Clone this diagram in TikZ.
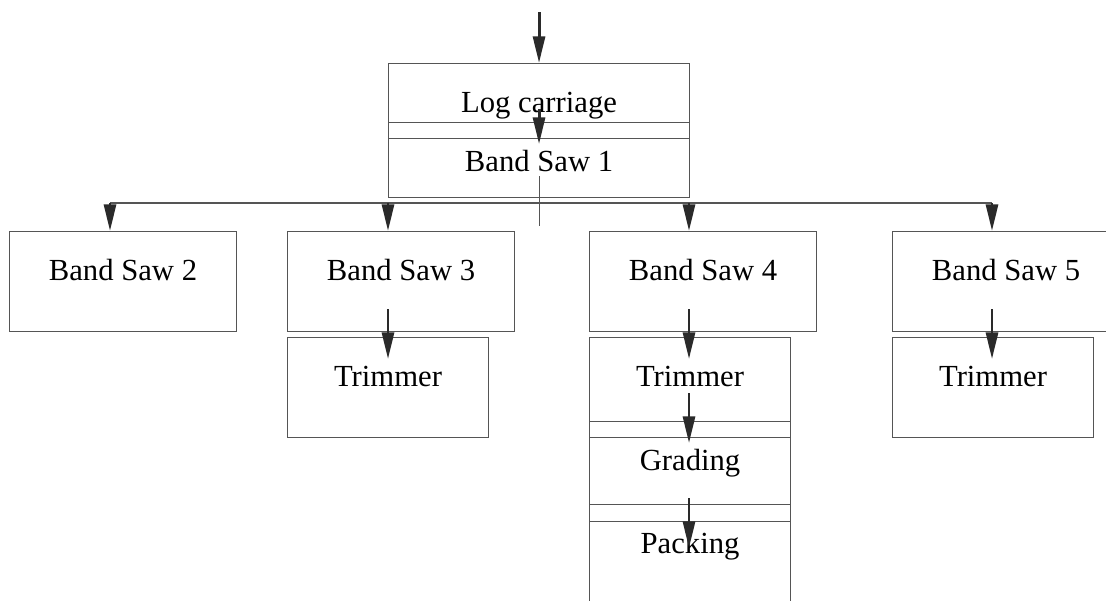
\documentclass[tikz,border=0pt]{standalone}
\usepackage{fontspec}
\setmainfont{Liberation Serif}
\usetikzlibrary{arrows.meta}
\definecolor{boxline}{HTML}{555555}
\definecolor{flowcol}{HTML}{2A2A2A}

\begin{document}
\begin{tikzpicture}[x=0.75pt,y=-0.75pt,
  stage/.style 2 args={draw=boxline, line width=0.8pt, anchor=north west, inner sep=0pt,
    minimum width=#1*0.75pt, minimum height=#2*0.75pt},
  stagetext/.style={anchor=base, yshift=-36.75pt, inner sep=0pt, font=\fontsize{23}{27}\selectfont},
  flow/.style={draw=flowcol, line width=2.2pt, -{Triangle[length=20pt,width=9pt]}},
  bus/.style={draw=boxline, line width=0.8pt}]
\useasboundingbox (0,0) rectangle (1106,600);
\clip (0,0) rectangle (1106,600);

% head of the line
\node[stage={301}{75}, label={[stagetext]north:Log carriage}] (log) at (388,63) {};
\node[stage={301}{75}, label={[stagetext]north:Band Saw 1}] (bs1) at (388,122) {};

% second row of saws
\node[stage={227}{100}, label={[stagetext]north:Band Saw 2}] (bs2) at (9,231) {};
\node[stage={227}{100}, label={[stagetext]north:Band Saw 3}] (bs3) at (287,231) {};
\node[stage={227}{100}, label={[stagetext]north:Band Saw 4}] (bs4) at (589,231) {};
\node[stage={227}{100}, label={[stagetext]north:Band Saw 5}] (bs5) at (892,231) {};

% after the saws
\node[stage={201}{100}, label={[stagetext]north:Trimmer}] (trim3) at (287,337) {};
\node[stage={201}{100}, label={[stagetext]north:Trimmer}] (trim4) at (589,337) {};
\node[stage={201}{100}, label={[stagetext]north:Grading}] (grade) at (589,421) {};
\node[stage={201}{100}, label={[stagetext]north:Packing}] (pack) at (589,504) {};
\node[stage={201}{100}, label={[stagetext]north:Trimmer}] (trim5) at (892,337) {};

% bus
\coordinate (b2) at (110,203);
\coordinate (b3) at (388,203);
\coordinate (b4) at (689,203);
\coordinate (b5) at (992,203);
\draw[bus] (b2) -- (b5);
\draw[bus] (bs1.south) ++(0,-22) -- ++(0,50);

% arrows
\draw[flow] (log.north) ++(0,-51) -- (log.north);
\draw[flow] (log.south) ++(0,-30) -- ++(0,35);
\foreach \i in {2,...,5}
  \draw[flow] (b\i) -- (b\i |- bs\i.north);
\draw[flow] (b3 |- bs3.south) ++(0,-23) -- ++(0,50);
\draw[flow] (b4 |- bs4.south) ++(0,-23) -- ++(0,50);
\draw[flow] (b4 |- trim4.south) ++(0,-45) -- ++(0,50);
\draw[flow] (b4 |- grade.south) ++(0,-24) -- ++(0,50);
\draw[flow] (b5 |- bs5.south) ++(0,-23) -- ++(0,50);
\end{tikzpicture}
\end{document}
